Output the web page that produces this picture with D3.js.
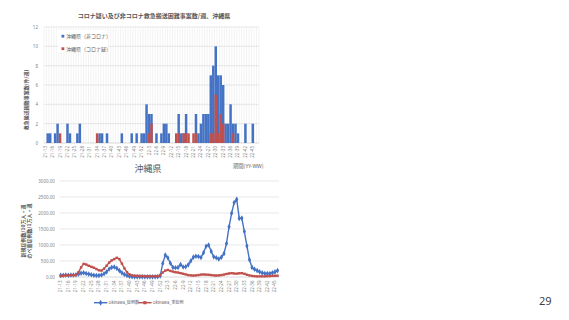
<!DOCTYPE html>
<html>
<head>
<meta charset="utf-8">
<script src="https://cdn.jsdelivr.net/npm/d3@7"></script>
<style>
  body { margin: 0; background: #fff; }
  svg { display: block; }
  text { font-family: "Noto Sans CJK JP", "Noto Sans", sans-serif; fill: #595959; }
</style>
</head>
<body>
<svg id="chart" width="569" height="320"></svg>
<script>
// week categories 21-13 .. 22-47 (bars) and 21-13 .. 22-46 (lines)
var barWeeks = [];
for (var w = 13; w <= 52; w++) barWeeks.push('21-' + w);
for (var w = 1; w <= 47; w++) barWeeks.push('22-' + w);
var lineWeeks = barWeeks.slice(0, 86);

// 救急搬送困難事案数/週
var nonCovid = [0,1,1,0,1,2,0,0,0,2,
                1,0,0,1,2,0,0,0,0,0,
                0,0,1,1,0,1,0,0,0,0,
                0,1,0,0,0,1,0,1,0,1,
                1,4,3,3,0,1,0,1,2,2,
                1,0,0,0,3,1,1,3,0,0,
                0,3,1,2,3,3,3,7,8,10,
                7,7,6,2,2,4,2,2,1,0,
                0,2,0,0,2,0,0];
var covidSuspected = [0,0,0,0,0,0,1,0,0,0,
                      0,0,0,0,0,0,0,0,0,0,
                      0,1,0,0,0,0,0,0,0,0,
                      0,0,0,0,0,0,0,0,0,0,
                      0,0,1,2,0,0,0,0,0,0,
                      0,0,0,1,1,0,1,1,1,0,
                      1,1,0,0,0,0,0,1,1,5,
                      1,3,2,0,0,0,1,0,0,0,
                      0,0,0,0,0,0,0];

// 新規症例数 / のべ重症例数
var cases = [50,55,60,55,60,65,70,90,120,130,
             110,90,70,55,45,45,60,100,160,250,
             300,310,270,200,130,80,45,20,10,5,
             5,5,5,5,5,5,5,5,10,30,
             420,690,600,430,300,290,300,390,310,320,
             380,500,620,650,640,610,760,960,1000,800,
             630,600,560,620,730,1050,1570,1990,2330,2430,
             1830,1840,1420,970,540,300,240,200,160,130,
             110,110,110,130,160,200];
var severe = [30,40,50,50,55,55,60,150,300,410,
              390,350,320,290,250,210,200,260,350,450,
              520,560,600,560,420,270,150,80,50,40,
              35,30,30,25,25,25,25,25,30,60,
              140,200,220,190,170,150,140,120,100,80,
              60,50,45,50,60,75,80,75,70,60,
              50,45,50,60,75,95,110,120,110,105,
              115,120,100,70,50,35,25,20,20,20,
              20,25,30,35,40,40];

var barTicks = [0, 2, 4, 6, 8, 10, 12];
var lineTicks = [0, 500, 1000, 1500, 2000, 2500, 3000];

var blue = '#4472C4';
var red = '#C0504D';

var svg = d3.select('#chart');

// ---------- Bar chart ----------
var xBar = d3.scaleBand().domain(barWeeks).range([44, 259]).padding(0);
var yBar = d3.scaleLinear().domain([0, 12]).range([143, 27]);

svg.append('text')
   .attr('x', 154).attr('y', 18)
   .attr('text-anchor', 'middle')
   .style('font-size', '6px').style('font-weight', 'bold')
   .text('コロナ疑い及び非コロナ救急搬送困難事案数/週、沖縄県');

// vertical grid
svg.append('g').selectAll('line')
   .data(barWeeks)
   .enter().append('line')
   .attr('x1', function(d) { return xBar(d); })
   .attr('x2', function(d) { return xBar(d); })
   .attr('y1', yBar(12)).attr('y2', yBar(0))
   .attr('stroke', '#e6e6e6').attr('stroke-width', 0.5);
svg.append('line')
   .attr('x1', 259).attr('x2', 259).attr('y1', yBar(12)).attr('y2', yBar(0))
   .attr('stroke', '#e6e6e6').attr('stroke-width', 0.5);

// horizontal grid
svg.append('g').selectAll('line')
   .data(barTicks)
   .enter().append('line')
   .attr('x1', 44).attr('x2', 259)
   .attr('y1', function(d) { return yBar(d); })
   .attr('y2', function(d) { return yBar(d); })
   .attr('stroke', function(d) { return d === 0 ? '#bfbfbf' : '#d9d9d9'; })
   .attr('stroke-width', 0.6);

var yAxisBar = d3.axisLeft(yBar).tickValues(barTicks).tickSize(0).tickPadding(6);
var gyb = svg.append('g').attr('transform', 'translate(44,0)').call(yAxisBar);
gyb.select('.domain').remove();
gyb.selectAll('text').style('font-size', '4.5px').style('fill', '#7f7f7f').style('font-family', '"Noto Sans", sans-serif');

// bars (red drawn in front)
svg.append('g').selectAll('rect')
   .data(nonCovid)
   .enter().append('rect')
   .attr('x', function(d, i) { return xBar(barWeeks[i]); })
   .attr('y', function(d) { return yBar(d); })
   .attr('width', xBar.bandwidth())
   .attr('height', function(d) { return yBar(0) - yBar(d); })
   .attr('fill', blue);
svg.append('g').selectAll('rect')
   .data(covidSuspected)
   .enter().append('rect')
   .attr('x', function(d, i) { return xBar(barWeeks[i]); })
   .attr('y', function(d) { return yBar(d); })
   .attr('width', xBar.bandwidth())
   .attr('height', function(d) { return yBar(0) - yBar(d); })
   .attr('fill', red);

// x labels every 3 weeks
var barLabels = barWeeks.filter(function(d, i) { return i % 3 === 0 && i < 85; });
svg.append('g').selectAll('text')
   .data(barLabels)
   .enter().append('text')
   .attr('transform', function(d) {
     return 'translate(' + (xBar(d) + xBar.bandwidth() / 2 + 1.5) + ',146) rotate(-90)';
   })
   .attr('text-anchor', 'end')
   .style('font-size', '4.5px').style('fill', '#7f7f7f').style('font-family', '"Noto Sans", sans-serif')
   .text(function(d) { return d; });

// y title
svg.append('text')
   .attr('transform', 'translate(28,100) rotate(-90)')
   .attr('text-anchor', 'middle')
   .style('font-size', '5px').style('font-weight', 'bold')
   .text('救急搬送困難事案数(件/週)');

// legend
svg.append('rect').attr('x', 58).attr('y', 30).attr('width', 50).attr('height', 22).attr('fill', '#fff');
var legendBar = [['沖縄県（非コロナ）', blue], ['沖縄県（コロナ疑）', red]];
legendBar.forEach(function(l, i) {
  svg.append('rect').attr('x', 61.5).attr('y', 34.8 + i * 12.5).attr('width', 2.8).attr('height', 2.8).attr('fill', l[1]);
  svg.append('text').attr('x', 66).attr('y', 38.2 + i * 12.5)
     .style('font-size', '5px').text(l[0]);
});

svg.append('text').attr('x', 148).attr('y', 172)
   .attr('text-anchor', 'middle').style('font-size', '9px').text('沖縄県');
svg.append('text').attr('x', 233).attr('y', 167.5)
   .style('font-size', '5.3px').text('期間(YY-WW)');

// ---------- Line chart ----------
var xLine = d3.scaleBand().domain(lineWeeks).range([59.4, 278.8]);
var yLine = d3.scaleLinear().domain([0, 3000]).range([277, 181]);
function cx(d) { return xLine(d) + xLine.bandwidth() / 2; }

svg.append('g').selectAll('line')
   .data(lineTicks)
   .enter().append('line')
   .attr('x1', 59.4).attr('x2', 278.8)
   .attr('y1', function(d) { return yLine(d); })
   .attr('y2', function(d) { return yLine(d); })
   .attr('stroke', function(d) { return d === 0 ? '#bfbfbf' : '#d9d9d9'; })
   .attr('stroke-width', 0.6);

var yAxisLine = d3.axisLeft(yLine).tickValues(lineTicks).tickSize(0).tickPadding(4.5).tickFormat(d3.format('.2f'));
var gyl = svg.append('g').attr('transform', 'translate(59.4,0)').call(yAxisLine);
gyl.select('.domain').remove();
gyl.selectAll('text').style('font-size', '4.5px').style('fill', '#7f7f7f').style('font-family', '"Noto Sans", sans-serif');

var lineLabels = lineWeeks.filter(function(d, i) { return i % 3 === 0; });
svg.append('g').selectAll('text')
   .data(lineLabels)
   .enter().append('text')
   .attr('transform', function(d) { return 'translate(' + (cx(d) + 1.5) + ',280.5) rotate(-90)'; })
   .attr('text-anchor', 'end')
   .style('font-size', '4.5px').style('fill', '#7f7f7f').style('font-family', '"Noto Sans", sans-serif')
   .text(function(d) { return d; });

var series = [
  { values: cases, color: blue, symbol: d3.symbolDiamond, size: 9 },
  { values: severe, color: red, symbol: d3.symbolSquare, size: 6 }
];
series.forEach(function(s) {
  var line = d3.line()
               .x(function(d, i) { return cx(lineWeeks[i]); })
               .y(function(d) { return yLine(d); });
  svg.append('path').datum(s.values)
     .attr('d', line).attr('fill', 'none')
     .attr('stroke', s.color).attr('stroke-width', 1.4);
  svg.append('g').selectAll('path')
     .data(s.values)
     .enter().append('path')
     .attr('d', d3.symbol().type(s.symbol).size(s.size))
     .attr('transform', function(d, i) { return 'translate(' + cx(lineWeeks[i]) + ',' + yLine(d) + ')'; })
     .attr('fill', s.color);
});

// y title (two lines)
svg.append('text')
   .attr('transform', 'translate(24.5,231) rotate(-90)')
   .attr('text-anchor', 'middle').style('font-size', '5px').style('font-weight', 'bold')
   .text('新規症例数/10万人・週');
svg.append('text')
   .attr('transform', 'translate(30.5,231) rotate(-90)')
   .attr('text-anchor', 'middle').style('font-size', '5px').style('font-weight', 'bold')
   .text('のべ重症例数/1万人・週');

// legend
var legendLine = [['Okinawa_症例数', blue, d3.symbolDiamond, 94], ['Okinawa_重症例', red, d3.symbolSquare, 138.3]];
legendLine.forEach(function(l) {
  svg.append('line').attr('x1', l[3]).attr('x2', l[3] + 13.3).attr('y1', 302.7).attr('y2', 302.7)
     .attr('stroke', l[1]).attr('stroke-width', 1.4);
  svg.append('path').attr('d', d3.symbol().type(l[2]).size(10))
     .attr('transform', 'translate(' + (l[3] + 6.6) + ',302.7)').attr('fill', l[1]);
  svg.append('text').attr('x', l[3] + 14.5).attr('y', 304.2)
     .style('font-size', '4px').text(l[0]);
});

// page number
svg.append('text').attr('x', 539).attr('y', 304.5)
   .style('font-size', '11px').style('fill', '#404040').style('font-family', '"Noto Sans", sans-serif')
   .text('29');
</script>
</body>
</html>
